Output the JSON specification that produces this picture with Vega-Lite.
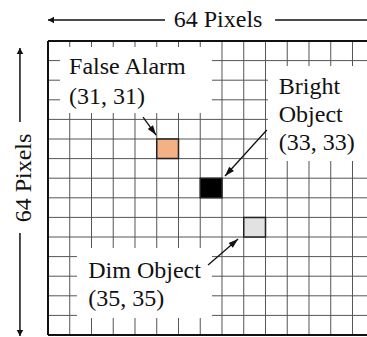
{
  "$schema": "https://vega.github.io/schema/vega-lite/v6.json",
  "width": 319,
  "height": 294,
  "autosize": {"type": "none"},
  "padding": {"left": 48, "top": 41, "right": 0, "bottom": 2},
  "config": {"view": {"stroke": null}},
  "datasets": {
    "vlines": [{"x": 27}, {"x": 28}, {"x": 29}, {"x": 30}, {"x": 31}, {"x": 32}, {"x": 33}, {"x": 34}, {"x": 35}, {"x": 36}, {"x": 37}, {"x": 38}, {"x": 39}, {"x": 40}],
    "hlines": [{"y": 27}, {"y": 28}, {"y": 29}, {"y": 30}, {"y": 31}, {"y": 32}, {"y": 33}, {"y": 34}, {"y": 35}, {"y": 36}, {"y": 37}, {"y": 38}, {"y": 39}, {"y": 40}],
    "borderV": [{"x": 26}],
    "borderH": [{"y": 26}, {"y": 41}],
    "boxes": [
      {"label": "False Alarm", "x": 26.55, "x2": 33.54, "y": 26.31, "y2": 29.67},
      {"label": "Bright Object", "x": 36.11, "x2": 41.5, "y": 27.28, "y2": 32.12},
      {"label": "Dim Object", "x": 27.33, "x2": 33.54, "y": 36.56, "y2": 40.13}
    ],
    "cells": [
      {"object": "False Alarm", "x": 31, "x2": 32, "y": 31, "y2": 32},
      {"object": "Bright Object", "x": 33, "x2": 34, "y": 33, "y2": 34},
      {"object": "Dim Object", "x": 35, "x2": 36, "y": 35, "y2": 36}
    ],
    "pointers": [
      {"object": "False Alarm", "x": 30.37, "y": 29.88, "x2": 30.97, "y2": 30.8, "angle": 144},
      {"object": "Bright Object", "x": 36.06, "y": 30.54, "x2": 34.14, "y2": 32.89, "angle": 222},
      {"object": "Dim Object", "x": 33.36, "y": 37.43, "x2": 34.74, "y2": 36.1, "angle": 49}
    ],
    "dimLines": [
      {"x": 26.0, "y": 24.93, "x2": 31.38, "y2": 24.93},
      {"x": 36.44, "y": 24.93, "x2": 41.5, "y2": 24.93},
      {"x": 24.71, "y": 26.36, "x2": 24.71, "y2": 30.13},
      {"x": 24.71, "y": 35.8, "x2": 24.71, "y2": 41.05}
    ],
    "dimHeads": [
      {"x": 26.0, "y": 24.93, "angle": 270},
      {"x": 24.71, "y": 26.36, "angle": 0},
      {"x": 24.71, "y": 41.05, "angle": 180}
    ],
    "labels": [
      {"text": "False Alarm", "x": 26.97, "y": 27.66},
      {"text": "(31, 31)", "x": 26.97, "y": 29.2},
      {"text": "Bright", "x": 36.61, "y": 28.69},
      {"text": "Object", "x": 36.61, "y": 30.12},
      {"text": "(33, 33)", "x": 36.61, "y": 31.58},
      {"text": "Dim Object", "x": 27.85, "y": 38.07},
      {"text": "(35, 35)", "x": 27.85, "y": 39.54}
    ],
    "dimLabels": [
      {"text": "64 Pixels", "x": 33.82, "y": 25.3, "angle": 0},
      {"text": "64 Pixels", "x": 25.24, "y": 32.99, "angle": 270}
    ]
  },
  "layer": [
    {
      "data": {"name": "vlines"},
      "mark": {"type": "rule", "color": "#555555", "strokeWidth": 1},
      "encoding": {
        "x": {"field": "x", "type": "quantitative", "scale": {"domain": [26, 40.667], "nice": false, "zero": false}, "axis": null}
      }
    },
    {
      "data": {"name": "hlines"},
      "mark": {"type": "rule", "color": "#555555", "strokeWidth": 1},
      "encoding": {
        "y": {"field": "y", "type": "quantitative", "scale": {"domain": [26, 41], "nice": false, "zero": false, "reverse": true}, "axis": null}
      }
    },
    {
      "data": {"name": "boxes"},
      "mark": {"type": "rect", "fill": "white", "strokeWidth": 0},
      "encoding": {
        "x": {"field": "x", "type": "quantitative", "scale": {"domain": [26, 40.667], "nice": false, "zero": false}, "axis": null},
        "x2": {"field": "x2"},
        "y": {"field": "y", "type": "quantitative", "scale": {"domain": [26, 41], "nice": false, "zero": false, "reverse": true}, "axis": null},
        "y2": {"field": "y2"}
      }
    },
    {
      "data": {"name": "borderV"},
      "mark": {"type": "rule", "color": "#111111", "strokeWidth": 2},
      "encoding": {
        "x": {"field": "x", "type": "quantitative", "scale": {"domain": [26, 40.667], "nice": false, "zero": false}, "axis": null}
      }
    },
    {
      "data": {"name": "borderH"},
      "mark": {"type": "rule", "color": "#111111", "strokeWidth": 2},
      "encoding": {
        "y": {"field": "y", "type": "quantitative", "scale": {"domain": [26, 41], "nice": false, "zero": false, "reverse": true}, "axis": null}
      }
    },
    {
      "data": {"name": "cells"},
      "mark": {"type": "rect", "stroke": "#222222", "strokeWidth": 1.5},
      "encoding": {
        "x": {"field": "x", "type": "quantitative", "scale": {"domain": [26, 40.667], "nice": false, "zero": false}, "axis": null},
        "x2": {"field": "x2"},
        "y": {"field": "y", "type": "quantitative", "scale": {"domain": [26, 41], "nice": false, "zero": false, "reverse": true}, "axis": null},
        "y2": {"field": "y2"},
        "fill": {"field": "object", "type": "nominal", "scale": {"domain": ["False Alarm", "Bright Object", "Dim Object"], "range": ["#F4B183", "#000000", "#E2E2E2"]}, "legend": null}
      }
    },
    {
      "data": {"name": "pointers"},
      "mark": {"type": "rule", "color": "#111111", "strokeWidth": 1.3},
      "encoding": {
        "x": {"field": "x", "type": "quantitative", "scale": {"domain": [26, 40.667], "nice": false, "zero": false}, "axis": null},
        "x2": {"field": "x2"},
        "y": {"field": "y", "type": "quantitative", "scale": {"domain": [26, 41], "nice": false, "zero": false, "reverse": true}, "axis": null},
        "y2": {"field": "y2"}
      }
    },
    {
      "data": {"name": "pointers"},
      "mark": {"type": "point", "shape": "M0,0L-0.33,1L0.33,1Z", "filled": true, "color": "#111111", "opacity": 1, "size": 380, "strokeWidth": 0},
      "encoding": {
        "x": {"field": "x2", "type": "quantitative", "scale": {"domain": [26, 40.667], "nice": false, "zero": false}, "axis": null},
        "y": {"field": "y2", "type": "quantitative", "scale": {"domain": [26, 41], "nice": false, "zero": false, "reverse": true}, "axis": null},
        "angle": {"field": "angle", "type": "quantitative", "scale": null}
      }
    },
    {
      "data": {"name": "dimLines"},
      "mark": {"type": "rule", "color": "#111111", "strokeWidth": 1.5},
      "encoding": {
        "x": {"field": "x", "type": "quantitative", "scale": {"domain": [26, 40.667], "nice": false, "zero": false}, "axis": null},
        "x2": {"field": "x2"},
        "y": {"field": "y", "type": "quantitative", "scale": {"domain": [26, 41], "nice": false, "zero": false, "reverse": true}, "axis": null},
        "y2": {"field": "y2"}
      }
    },
    {
      "data": {"name": "dimHeads"},
      "mark": {"type": "point", "shape": "M0,0L-0.55,1L0.55,1Z", "filled": true, "color": "#111111", "opacity": 1, "size": 144, "strokeWidth": 0},
      "encoding": {
        "x": {"field": "x", "type": "quantitative", "scale": {"domain": [26, 40.667], "nice": false, "zero": false}, "axis": null},
        "y": {"field": "y", "type": "quantitative", "scale": {"domain": [26, 41], "nice": false, "zero": false, "reverse": true}, "axis": null},
        "angle": {"field": "angle", "type": "quantitative", "scale": null}
      }
    },
    {
      "data": {"name": "labels"},
      "mark": {"type": "text", "align": "left", "baseline": "alphabetic", "fontSize": 24, "font": "Liberation Serif", "color": "#111111"},
      "encoding": {
        "x": {"field": "x", "type": "quantitative", "scale": {"domain": [26, 40.667], "nice": false, "zero": false}, "axis": null},
        "y": {"field": "y", "type": "quantitative", "scale": {"domain": [26, 41], "nice": false, "zero": false, "reverse": true}, "axis": null},
        "text": {"field": "text"}
      }
    },
    {
      "data": {"name": "dimLabels"},
      "mark": {"type": "text", "align": "center", "baseline": "alphabetic", "fontSize": 24, "font": "Liberation Serif", "color": "#111111"},
      "encoding": {
        "x": {"field": "x", "type": "quantitative", "scale": {"domain": [26, 40.667], "nice": false, "zero": false}, "axis": null},
        "y": {"field": "y", "type": "quantitative", "scale": {"domain": [26, 41], "nice": false, "zero": false, "reverse": true}, "axis": null},
        "text": {"field": "text"},
        "angle": {"field": "angle", "type": "quantitative", "scale": null}
      }
    }
  ]
}
